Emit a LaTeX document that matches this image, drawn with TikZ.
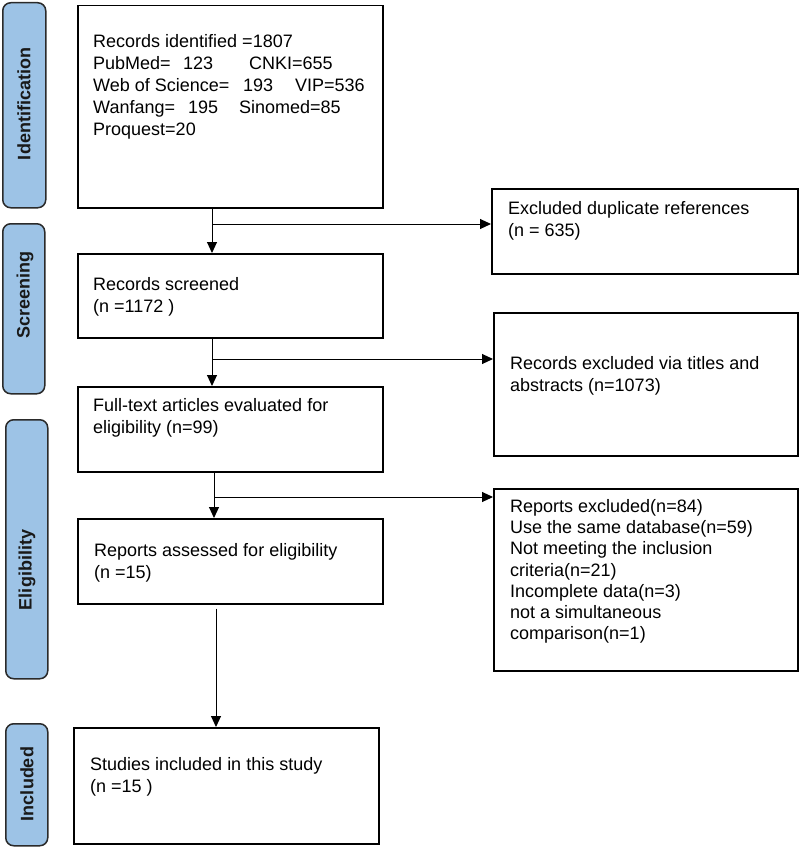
\documentclass[tikz,border=0pt]{standalone}
\usepackage{fontspec}
\setmainfont{Liberation Sans}
\usetikzlibrary{arrows.meta}
\definecolor{lblue}{HTML}{9DC3E6}
\definecolor{ledge}{HTML}{2A2A2A}
\begin{document}
\begin{tikzpicture}[x=1pt,y=-1pt,
  box/.style={draw=black, line width=1.5pt, anchor=north west, inner sep=0pt},
  txt/.style={anchor=base west, inner sep=0pt, font=\fontsize{18}{22}\selectfont},
  lbl/.style={draw=ledge, fill=lblue, rounded corners=8pt, line width=1.5pt, anchor=north west, inner sep=0pt},
  ltxt/.style={rotate=90, inner sep=0pt, font=\bfseries\fontsize{18}{22}\selectfont, text=black!90},
  arr/.style={line width=1pt, -{Triangle[length=11pt,width=10pt]}}]
\useasboundingbox (0,0) rectangle (800,848);
% phase labels
\node[lbl, minimum width=43pt, minimum height=205pt] (l1) at (2,2) {};
\node[lbl, minimum width=42pt, minimum height=170pt] (l2) at (2,223) {};
\node[lbl, minimum width=42pt, minimum height=259pt] (l3) at (5,419) {};
\node[lbl, minimum width=42pt, minimum height=122pt] (l4) at (5,723) {};
\node[ltxt] (lt1) at (24,104) {Identification};
\node[ltxt] (lt2) at (25,295) {Screening};
\node[ltxt] (lt3) at (27,570) {Eligibility};
\node[ltxt] (lt4) at (27,784) {Included};
% main boxes
\node[box, minimum width=305pt, minimum height=202pt] (b1) at (77,5) {};
\node[box, minimum width=305pt, minimum height=84pt] (b2) at (77,253) {};
\node[box, minimum width=305pt, minimum height=85pt] (b3) at (77,386) {};
\node[box, minimum width=305pt, minimum height=85pt] (b4) at (77,518) {};
\node[box, minimum width=305pt, minimum height=116pt] (b5) at (73,727) {};
% exclusion boxes
\node[box, minimum width=306pt, minimum height=85pt] (e1) at (491,188) {};
\node[box, minimum width=304pt, minimum height=143pt] (e2) at (493,312) {};
\node[box, minimum width=304pt, minimum height=182pt] (e3) at (493,488) {};
% texts
\node[txt] (t1) at (93,48) {\begin{tabular}[t]{@{}l@{}}Records identified =1807\\
\makebox[90pt][l]{PubMed=}\makebox[66pt][l]{123}CNKI=655\\
\makebox[150pt][l]{Web of Science=}\makebox[52pt][l]{193}VIP=536\\
\makebox[95pt][l]{Wanfang=}\makebox[51pt][l]{195}Sinomed=85\\
Proquest=20\end{tabular}};
\node[txt] (t2) at (93,290.5) {\begin{tabular}[t]{@{}l@{}}Records screened\\(n =1172 )\end{tabular}};
\node[txt] (t3) at (93,411.5) {\begin{tabular}[t]{@{}l@{}}Full-text articles evaluated for\\eligibility (n=99)\end{tabular}};
\node[txt] (t4) at (94,556.5) {\begin{tabular}[t]{@{}l@{}}Reports assessed for eligibility\\(n =15)\end{tabular}};
\node[txt] (t5) at (90,770.5) {\begin{tabular}[t]{@{}l@{}}Studies included in this study\\(n =15 )\end{tabular}};
\node[txt] (te1) at (508,214.5) {\begin{tabular}[t]{@{}l@{}}Excluded duplicate references\\(n = 635)\end{tabular}};
\node[txt] (te2) at (510,369.5) {\begin{tabular}[t]{@{}l@{}}Records excluded via titles and\\abstracts (n=1073)\end{tabular}};
\node[txt, font=\fontsize{18}{21.2}\selectfont] (te3) at (510,512.5) {\begin{tabular}[t]{@{}l@{}}Reports excluded(n=84)\\Use the same database(n=59)\\Not meeting the inclusion\\criteria(n=21)\\Incomplete data(n=3)\\not a simultaneous\\comparison(n=1)\end{tabular}};
% connectors
\coordinate (j1) at (212,224);
\coordinate (j2) at (212,359);
\coordinate (j3) at (214,497);
\coordinate (j4) at (216,650);
\draw[arr] (j1 |- b1.south) -- (j1 |- b2.north);
\draw[arr] (j1) -- (j1 -| e1.west);
\draw[arr] (j2 |- b2.south) -- (j2 |- b3.north);
\draw[arr] (j2) -- (j2 -| e2.west);
\draw[arr] (j3 |- b3.south) -- (j3 |- b4.north);
\draw[arr] (j3) -- (j3 -| e3.west);
\draw[arr, shorten <=4pt] (j4 |- b4.south) -- (j4 |- b5.north);
\end{tikzpicture}
\end{document}
